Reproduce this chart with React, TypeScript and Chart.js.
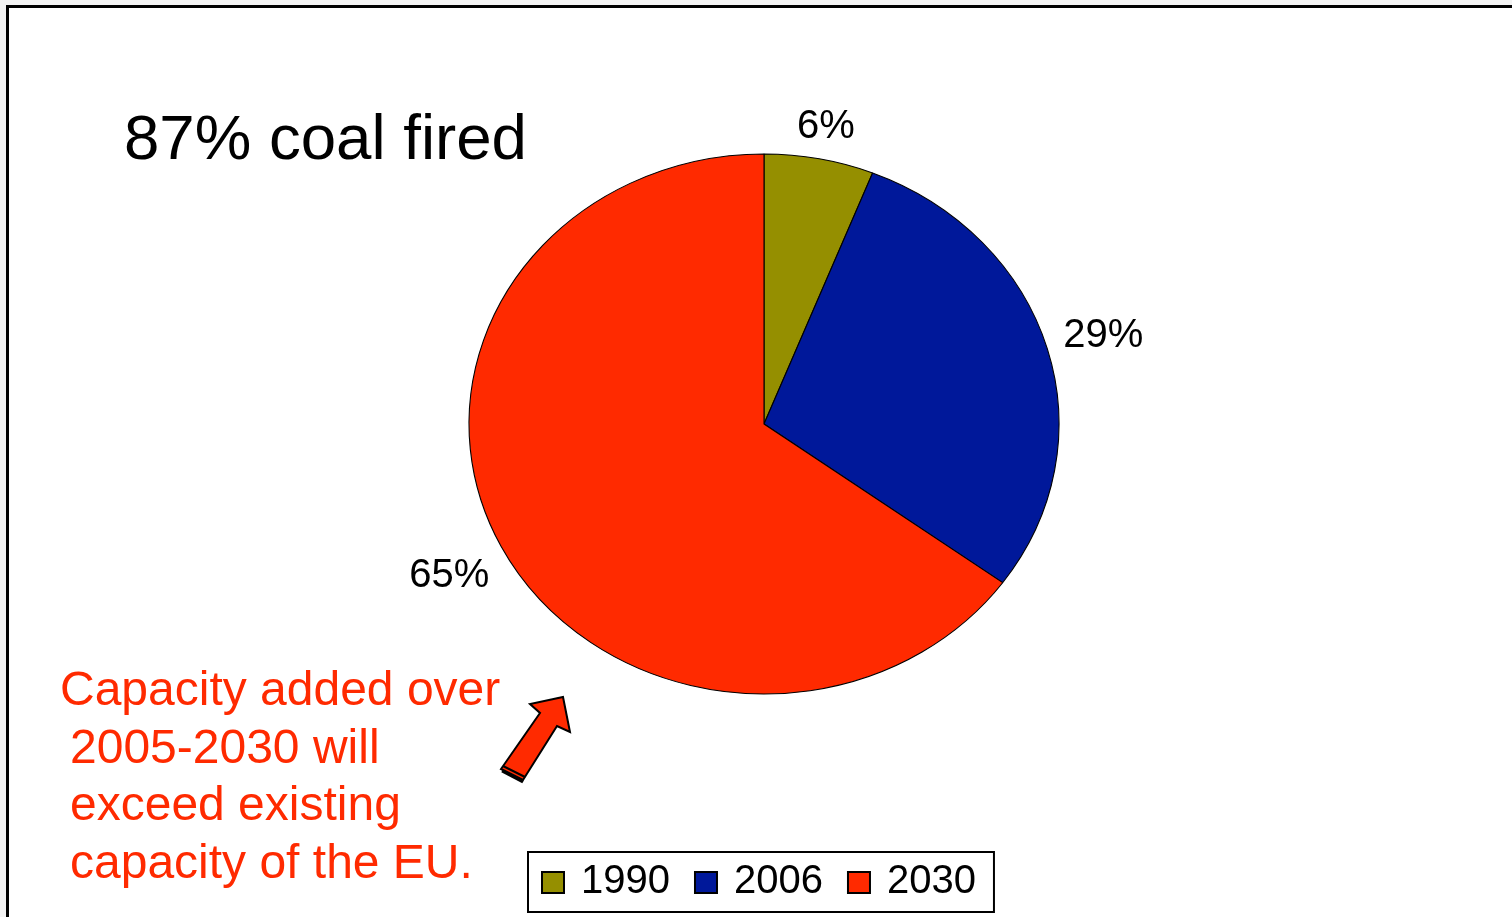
import React, { useEffect, useRef } from "react";
import { Chart, registerables } from "chart.js";

Chart.register(...registerables);

const categories = ["1990", "2006", "2030"];
const shares = [6, 29, 65];
const sliceColors = ["#958F00", "#00189A", "#FF2A00"];
const titleText = "87% coal fired";
const noteLines = [
  "Capacity added over",
  "2005-2030 will",
  "exceed existing",
  "capacity of the EU.",
];

const FONT = '"Liberation Sans", Arial, Helvetica, sans-serif';
const STRETCH_X = 295 / 270;

const ellipsePlugin = {
  id: "ellipsePie",
  beforeDatasetsDraw(chart: any) {
    const arc = chart.getDatasetMeta(0).data[0];
    const ctx = chart.ctx;
    ctx.save();
    ctx.translate(arc.x, arc.y);
    ctx.scale(STRETCH_X, 1);
    ctx.translate(-arc.x, -arc.y);
  },
  afterDatasetsDraw(chart: any) {
    const ctx = chart.ctx;
    ctx.restore();
    const meta = chart.getDatasetMeta(0);
    const values = chart.data.datasets[0].data;
    const fs = 40;
    const capH = fs * 0.716;
    ctx.save();
    ctx.font = `${fs}px ${FONT}`;
    ctx.fillStyle = "#000";
    ctx.textAlign = "center";
    ctx.textBaseline = "alphabetic";
    meta.data.forEach((el: any, i: number) => {
      const { x, y, startAngle, endAngle, outerRadius } = el.getProps(
        ["x", "y", "startAngle", "endAngle", "outerRadius"],
        true
      );
      const mid = (startAngle + endAngle) / 2;
      const dx = Math.cos(mid);
      const dy = Math.sin(mid);
      const ex = x + dx * outerRadius * STRETCH_X;
      const ey = y + dy * outerRadius;
      const text = `${values[i]}%`;
      const w = ctx.measureText(text).width;
      const dist = 16 + (Math.abs(dx) * w) / 2 + (Math.abs(dy) * capH) / 2;
      ctx.fillText(text, ex + dx * dist, ey + dy * dist + capH / 2);
    });
    ctx.restore();
  },
};

const legendPlugin = {
  id: "boxLegend",
  afterDraw(chart: any) {
    const ctx = chart.ctx;
    const labels: string[] = chart.data.labels;
    const colors: string[] = chart.data.datasets[0].backgroundColor;
    const fs = 40;
    const sw = 22;
    const sh = 21;
    const gapText = 17;
    const gapItem = 25;
    const padL = 14;
    const padR = 18;
    ctx.save();
    ctx.font = `${fs}px ${FONT}`;
    const widths = labels.map((l) => ctx.measureText(l).width);
    const contentW =
      widths.reduce((a, w) => a + sw + gapText + w, 0) + gapItem * (labels.length - 1);
    const boxW = contentW + padL + padR;
    const cx = (chart.chartArea.left + chart.chartArea.right) / 2 - 3;
    const left = Math.round(cx - boxW / 2);
    const top = chart.chartArea.bottom + 4;
    const bottom = top + 60;
    const baseline = top + 41;
    ctx.lineWidth = 2;
    ctx.strokeStyle = "#000";
    ctx.fillStyle = "#fff";
    ctx.fillRect(left, top, boxW, bottom - top);
    ctx.strokeRect(left, top, boxW, bottom - top);
    let xPos = left + padL;
    labels.forEach((l, i) => {
      ctx.fillStyle = colors[i];
      ctx.fillRect(xPos, baseline - sh, sw, sh);
      ctx.lineWidth = 2;
      ctx.strokeStyle = "#000";
      ctx.strokeRect(xPos, baseline - sh, sw, sh);
      ctx.fillStyle = "#000";
      ctx.textBaseline = "alphabetic";
      ctx.textAlign = "left";
      ctx.fillText(l, xPos + sw + gapText, baseline);
      xPos += sw + gapText + widths[i] + gapItem;
    });
    ctx.restore();
  },
};

const arrowPlugin = {
  id: "blockArrow",
  afterDraw(chart: any) {
    const ctx = chart.ctx;
    const pts: [number, number][] = [
      [563, 697],
      [570, 732],
      [557, 726],
      [523, 780],
      [501, 769],
      [540, 713],
      [530, 704],
    ];
    ctx.save();
    ctx.beginPath();
    pts.forEach(([px, py], i) => (i === 0 ? ctx.moveTo(px, py) : ctx.lineTo(px, py)));
    ctx.closePath();
    ctx.fillStyle = "#FF2A00";
    ctx.fill();
    ctx.lineWidth = 2;
    ctx.lineJoin = "miter";
    ctx.strokeStyle = "#000";
    ctx.stroke();
    ctx.beginPath();
    ctx.moveTo(503, 766);
    ctx.lineTo(525, 777);
    ctx.lineWidth = 2;
    ctx.stroke();
    ctx.beginPath();
    ctx.moveTo(502, 771);
    ctx.lineTo(523, 782);
    ctx.lineWidth = 3;
    ctx.stroke();
    ctx.restore();
  },
};

function PieChart() {
  const ref = useRef<HTMLCanvasElement | null>(null);
  useEffect(() => {
    if (!ref.current) return;
    const chart = new Chart(ref.current, {
      type: "pie",
      data: {
        labels: categories,
        datasets: [
          {
            data: shares,
            backgroundColor: sliceColors,
            borderColor: "#000",
            borderWidth: 1,
            radius: 270,
          } as any,
        ],
      },
      options: {
        responsive: false,
        maintainAspectRatio: false,
        animation: false,
        devicePixelRatio: 1,
        layout: { padding: { left: 16, right: 0, top: 0, bottom: 69 } },
        plugins: {
          legend: { display: false },
          tooltip: { enabled: false },
          title: { display: false },
        },
        events: [],
      } as any,
      plugins: [ellipsePlugin, legendPlugin, arrowPlugin],
    });
    return () => chart.destroy();
  }, []);
  return (
    <canvas
      ref={ref}
      width={1512}
      height={917}
      style={{ position: "absolute", left: 0, top: 0, width: 1512, height: 917 }}
    />
  );
}

export default function App() {
  return (
    <div
      style={{
        position: "fixed",
        left: 0,
        top: 0,
        width: 1512,
        height: 917,
        overflow: "hidden",
        background: "#f3f3f3",
        fontFamily: FONT,
      }}
    >
      <div
        style={{
          position: "absolute",
          left: 6,
          top: 5,
          width: 1600,
          height: 1000,
          border: "3px solid #000",
          background: "#fff",
          boxSizing: "border-box",
        }}
      />
      <PieChart />
      <div
        style={{
          position: "absolute",
          left: 124,
          top: 105,
          fontSize: 63.6,
          lineHeight: "63px",
          color: "#000",
          whiteSpace: "nowrap",
        }}
      >
        {titleText}
      </div>
      <div
        style={{
          position: "absolute",
          left: 60,
          top: 660,
          fontSize: 48,
          lineHeight: "57.5px",
          color: "#FF2A00",
          whiteSpace: "nowrap",
        }}
      >
        {noteLines.map((line, i) => (
          <div key={i} style={{ marginLeft: i === 0 ? 0 : 10 }}>
            {line}
          </div>
        ))}
      </div>
    </div>
  );
}
